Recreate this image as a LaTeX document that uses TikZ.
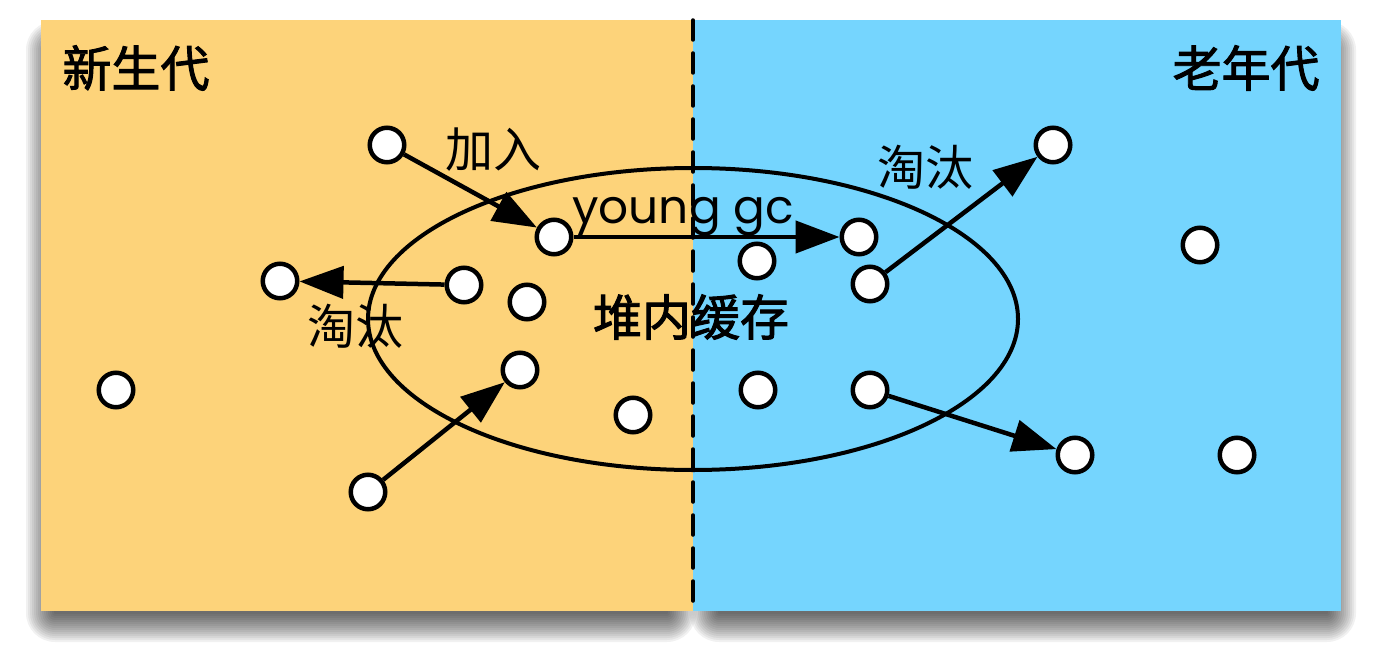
\documentclass[tikz,border=0pt]{standalone}
\usepackage{fontspec}
\newfontfamily\cjk{Noto Sans CJK SC}
\newfontfamily\cjkm[FakeBold=2]{Noto Sans CJK SC}
\newfontfamily\lat{Poppins}
\usetikzlibrary{arrows.meta}
\definecolor{young}{RGB}{253,211,122}
\definecolor{old}{RGB}{117,213,254}
\tikzset{
  obj/.style={circle,draw=black,fill=white,line width=4.5pt,minimum size=34.5pt,inner sep=0pt},
  arr/.style={line width=4.5pt,draw=black,-{Triangle[length=44pt,width=32pt,fill=black]}},
  title/.style={font=\cjkm\fontsize{49}{55}\selectfont,inner sep=0pt},
  lbl/.style={font=\cjk\fontsize{48}{54}\selectfont,inner sep=0pt},
  shade layer/.style={fill=black,fill opacity=0.055,draw=none},
}
\begin{document}
\begin{tikzpicture}[x=1pt,y=-1pt]
\useasboundingbox (0,0) rectangle (1383,666);
% soft shadows
\foreach \r in {1,3,...,29}{
  \fill[shade layer,rounded corners=\r pt] (41-\r+14,20+30-\r) rectangle (693+\r-26,611+\r+2);
  \fill[shade layer,rounded corners=\r pt] (693-\r+26,20+30-\r) rectangle (1341+\r-14,611+\r+2);
}
% panels
\fill[young] (41,20) rectangle (693,611);
\fill[old] (693,20) rectangle (1341,611);
\coordinate (dtop) at (693,20);
\coordinate (dbot) at (693,611);
\draw[line width=3.5pt,dash pattern=on 20pt off 13pt,line cap=round] (dtop) -- (dbot);
% titles
\node[title] (tyoung) at (136,68) {新生代};
\node[title] (told) at (1246,68) {老年代};
% cache ellipse
\draw[line width=4pt] (693,319) ellipse [x radius=325, y radius=151];
\node[title] (cache) at (691,317) {堆内缓存};
% objects
\node[obj] (n1) at (387,145) {};
\node[obj] (n2) at (554,237) {};
\node[obj] (n3) at (280,281) {};
\node[obj] (n4) at (464,285) {};
\node[obj] (n5) at (527,302) {};
\node[obj] (n6) at (116,390) {};
\node[obj] (n7) at (520,370) {};
\node[obj] (n8) at (633,415) {};
\node[obj] (n9) at (368,492) {};
\node[obj] (n10) at (757,261) {};
\node[obj] (n11) at (859,237) {};
\node[obj] (n12) at (870,284) {};
\node[obj] (n13) at (1053,145) {};
\node[obj] (n14) at (1200,245) {};
\node[obj] (n15) at (758,390) {};
\node[obj] (n16) at (870,390) {};
\node[obj] (n17) at (1075,455) {};
\node[obj] (n18) at (1237,455) {};
% arrows
\draw[arr] (n1) -- (n2);
\draw[arr] (n2) -- (n11);
\draw[arr] (n4) -- (n3);
\draw[arr] (n9) -- (n7);
\draw[arr] (n12) -- (n13);
\draw[arr] (n16) -- (n17);
% labels
\node[lbl] (ljoin) at (493,150) {加入};
\node[font=\lat\fontsize{47}{52}\selectfont,inner sep=0pt,anchor=base] (lgc) at (683,223) {young gc};
\node[lbl] (levl) at (355,326) {淘汰};
\node[lbl] (levr) at (925,167) {淘汰};
\end{tikzpicture}
\end{document}
